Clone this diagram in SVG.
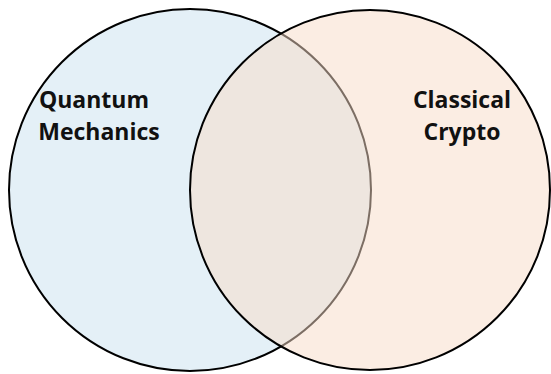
<svg xmlns="http://www.w3.org/2000/svg" width="551" height="374" viewBox="0 0 551 374">
<style>
.set{stroke:#000;stroke-width:2}
.lbl{font-family:"Open Sans","Liberation Sans",sans-serif;font-weight:bold;font-size:23px;fill:#111;text-anchor:middle}
</style>
<rect width="551" height="374" fill="#fff"/>
<g id="quantum">
<circle class="set" cx="190" cy="190" r="181" fill="#e4f0f7"/>
<text class="lbl" x="94" y="108">Quantum</text>
<text class="lbl" x="99" y="140">Mechanics</text>
</g>
<g id="classical">
<circle class="set" cx="370" cy="190" r="180" fill="#f7dbc7" fill-opacity="0.5"/>
<text class="lbl" x="462" y="108">Classical</text>
<text class="lbl" x="462" y="140">Crypto</text>
</g>
</svg>
